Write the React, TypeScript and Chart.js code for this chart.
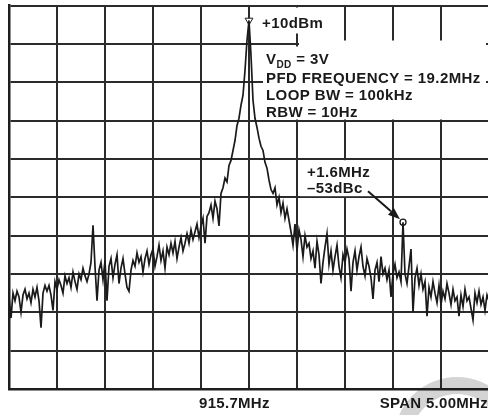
import { useEffect, useRef } from "react";
import { Chart, registerables } from "chart.js";

Chart.register(...registerables);

// ---- Instrument settings ----
const CENTER_MHZ = 915.7;
const SPAN_MHZ = 5;
const REF_LEVEL_DBM = 10;
const DB_PER_DIV = 10;
const DIVISIONS = 10;

// ---- Measured trace (dBm), 241 sweep points across the span ----
const levelDbm: number[] = [
  -66, -71.5, -65, -67, -64.5, -66, -70, -65.5, -64, -66.5,
  -65, -67.5, -64, -66, -63.5, -67, -74, -65, -63, -64.5,
  -63, -65.5, -69.5, -62, -64, -61.5, -63, -65, -60.5, -62.5,
  -61, -63.5, -59.5, -62, -64, -60, -61.5, -58.5, -60.5, -62,
  -60, -57, -47.3, -58, -67, -59, -57, -61.5, -56.5, -67,
  -58, -56, -61, -57.5, -55, -62.5, -58.5, -56, -60, -63.5,
  -64.5, -59, -56.5, -58, -54.5, -57, -55.5, -59.5, -56, -54,
  -57.5, -55, -53.5, -58, -55.5, -52.5, -56.5, -54, -58.5, -53,
  -55, -52, -54.5, -51.5, -56, -53, -50.5, -54, -52, -49.5,
  -52, -48.5, -51, -49, -47, -50.5, -47.5, -45.5, -52, -45,
  -44, -42, -45.5, -41, -43, -47.5, -39, -37.5, -35, -36,
  -31.7, -30.4, -27.8, -25.2, -21.3, -19.4, -16, -13.4, -6.9, 0.9,
  6.1,
  -3, -14.7, -19.4, -21.8, -24.6, -26.7, -27.8, -30.9, -32.4,
  -35.5, -38, -39, -37.5, -42, -40, -44, -41.5, -45.5, -43,
  -46, -49, -52.5, -47, -54, -48.5, -51, -55.5, -50, -53,
  -52, -56, -54, -58.5, -51.5, -55, -62.5, -57, -53, -49.5,
  -57.5, -54, -59, -55.5, -52.5, -58, -61, -55, -57, -53.5,
  -56, -64.5, -57, -54, -59, -55.5, -53, -58, -60.5, -56,
  -58, -61, -66.5, -59, -57, -62, -55.5, -60, -58.5, -61.5,
  -59, -66, -60, -57.5, -61, -59.5, -62, -46.5, -60, -62.5,
  -58, -53.5, -70, -61, -58.5, -63, -60, -64, -62, -71,
  -63.5, -66, -62, -65, -67.5, -63, -68, -64.5, -66.5, -62.5,
  -65, -68, -64, -67, -66, -71, -65.5, -68.5, -64, -67,
  -66, -69, -72, -65, -67.5, -64.5, -68, -66, -69.5, -65.5, -67,
];

// sweep grid (offset from centre, MHz)
const sweepOffsetMHz: number[] = levelDbm.map(
  (_, i) => -SPAN_MHZ / 2 + (i * SPAN_MHZ) / (levelDbm.length - 1)
);

// ---- Annotations ----
const SPUR_OFFSET_MHZ = 1.6;
const markerLabel = "+10dBm";
const settingsLines = ["PFD FREQUENCY = 19.2MHz", "LOOP BW = 100kHz", "RBW = 10Hz"];
const vddLabel = { main: "V", sub: "DD", rest: " = 3V" };
const spurLabels = ["+1.6MHz", "\u201353dBc"];
const centerLabel = `${CENTER_MHZ}MHz`;
const spanLabel = `SPAN ${SPAN_MHZ.toFixed(2)}MHz`;

const FONT = "'Liberation Sans', Arial, Helvetica, sans-serif";
const INK = "#1a1a1a";

export default function App() {
  const canvasRef = useRef<HTMLCanvasElement | null>(null);

  useEffect(() => {
    const canvas = canvasRef.current;
    if (!canvas) return;

    const trace = levelDbm.map((y, i) => ({ x: sweepOffsetMHz[i], y }));
    let peakIdx = 0;
    levelDbm.forEach((v, i) => {
      if (v > levelDbm[peakIdx]) peakIdx = i;
    });
    let spurIdx = 0;
    sweepOffsetMHz.forEach((f, i) => {
      if (Math.abs(f - SPUR_OFFSET_MHZ) < Math.abs(sweepOffsetMHz[spurIdx] - SPUR_OFFSET_MHZ)) spurIdx = i;
    });
    const carrierPt = trace[peakIdx];
    const spurPt = trace[spurIdx];

    const setSpacing = (ctx: CanvasRenderingContext2D, v: string) => {
      (ctx as any).letterSpacing = v;
    };

    const decorPlugin = {
      id: "decor",
      beforeDraw(chart: any) {
        const ctx = chart.ctx as CanvasRenderingContext2D;
        const ca = chart.chartArea;
        // faint watermark ring at bottom right
        ctx.save();
        ctx.beginPath();
        const cx = ca.right - 32;
        const cy = ca.bottom + 51;
        ctx.arc(cx, cy, 63, 0, Math.PI * 2);
        ctx.arc(cx, cy, 46, 0, Math.PI * 2, true);
        ctx.fillStyle = "#d4d4d4";
        ctx.fill();
        ctx.restore();
      },
      afterDatasetsDraw(chart: any) {
        const ctx = chart.ctx as CanvasRenderingContext2D;
        const ca = chart.chartArea;
        const xs = chart.scales.x;
        const ys = chart.scales.y;
        const cx = xs.getPixelForValue(carrierPt.x);
        const sx = xs.getPixelForValue(spurPt.x);
        const sy = ys.getPixelForValue(spurPt.y);

        ctx.save();
        // white label backgrounds
        ctx.fillStyle = "#ffffff";
        ctx.fillRect(cx + 9, ca.top + 2, 72, 26);
        ctx.fillRect(cx + 14, ca.top + 41, ca.right - 3 - (cx + 14), 73);
        ctx.fillRect(cx + 50, ca.top + 35, ca.right - 3 - (cx + 50), 8);
        ctx.fillRect(sx - 103, sy - 62, 75, 36);

        ctx.fillStyle = INK;
        ctx.textBaseline = "alphabetic";
        ctx.textAlign = "left";
        ctx.font = `bold 15px ${FONT}`;
        setSpacing(ctx, "0.4px");
        ctx.fillText(markerLabel, cx + 13, ca.top + 22);

        // V_DD line
        const lx = cx + 17;
        ctx.fillText(vddLabel.main, lx, ca.top + 58);
        const vw = ctx.measureText(vddLabel.main).width;
        ctx.font = `bold 10px ${FONT}`;
        ctx.fillText(vddLabel.sub, lx + vw, ca.top + 62);
        const dw = ctx.measureText(vddLabel.sub).width;
        ctx.font = `bold 15px ${FONT}`;
        ctx.fillText(vddLabel.rest, lx + vw + dw, ca.top + 58);

        const baselines = [77, 94, 111];
        settingsLines.forEach((t, i) => ctx.fillText(t, lx, ca.top + baselines[i]));

        // spur label
        ctx.fillText(spurLabels[0], sx - 96, sy - 45);
        ctx.fillText(spurLabels[1], sx - 96, sy - 29);

        // arrow to spur
        const x0 = sx - 35, y0 = sy - 31, x1 = sx - 3, y1 = sy - 3;
        const ang = Math.atan2(y1 - y0, x1 - x0);
        const hl = 12, hw = 4.5;
        const bx = x1 - hl * Math.cos(ang), by = y1 - hl * Math.sin(ang);
        ctx.strokeStyle = INK;
        ctx.lineWidth = 2;
        ctx.beginPath();
        ctx.moveTo(x0, y0);
        ctx.lineTo(bx, by);
        ctx.stroke();
        ctx.beginPath();
        ctx.moveTo(x1, y1);
        ctx.lineTo(bx + hw * Math.sin(ang), by - hw * Math.cos(ang));
        ctx.lineTo(bx - hw * Math.sin(ang), by + hw * Math.cos(ang));
        ctx.closePath();
        ctx.fill();

        // bottom labels
        ctx.font = `bold 15px ${FONT}`;
        setSpacing(ctx, "0.3px");
        ctx.textAlign = "left";
        ctx.fillText(centerLabel, cx - 50, ca.bottom + 19);
        ctx.textAlign = "right";
        ctx.fillText(spanLabel, 488, ca.bottom + 19);
        ctx.restore();
      },
    };

    const gridOpts = { color: "#2b2b2b", lineWidth: 2, drawTicks: false };
    const borderOpts = { display: true, color: "#1e1e1e", width: 2.5 };

    const chart = new Chart(canvas, {
      type: "scatter",
      data: {
        datasets: [
          {
            data: trace,
            showLine: true,
            borderColor: INK,
            borderWidth: 1.7,
            pointRadius: 0,
            tension: 0,
          },
          {
            data: [carrierPt],
            showLine: false,
            pointStyle: "triangle",
            rotation: 180,
            pointRadius: 4.5,
            backgroundColor: "#ffffff",
            borderColor: INK,
            borderWidth: 1,
          },
          {
            data: [spurPt],
            showLine: false,
            pointStyle: "circle",
            pointRadius: 3,
            backgroundColor: "#ffffff",
            borderColor: INK,
            borderWidth: 1.3,
          },
        ],
      },
      options: {
        animation: false,
        responsive: false,
        events: [],
        layout: { padding: { left: 9, top: 5, right: 6, bottom: 26 } },
        plugins: { legend: { display: false }, tooltip: { enabled: false } },
        scales: {
          x: {
            type: "linear",
            min: -SPAN_MHZ / 2,
            max: SPAN_MHZ / 2,
            ticks: { display: false, stepSize: SPAN_MHZ / DIVISIONS },
            grid: gridOpts,
            border: borderOpts,
          },
          y: {
            type: "linear",
            min: REF_LEVEL_DBM - DB_PER_DIV * DIVISIONS,
            max: REF_LEVEL_DBM,
            ticks: { display: false, stepSize: DB_PER_DIV },
            grid: gridOpts,
            border: borderOpts,
          },
        },
      },
      plugins: [decorPlugin],
    });

    return () => chart.destroy();
  }, []);

  return (
    <div
      style={{
        position: "fixed",
        left: 0,
        top: 0,
        width: 488,
        height: 415,
        overflow: "hidden",
        background: "#fff",
      }}
    >
      <canvas ref={canvasRef} width={495} height={415} style={{ display: "block" }} />
    </div>
  );
}
